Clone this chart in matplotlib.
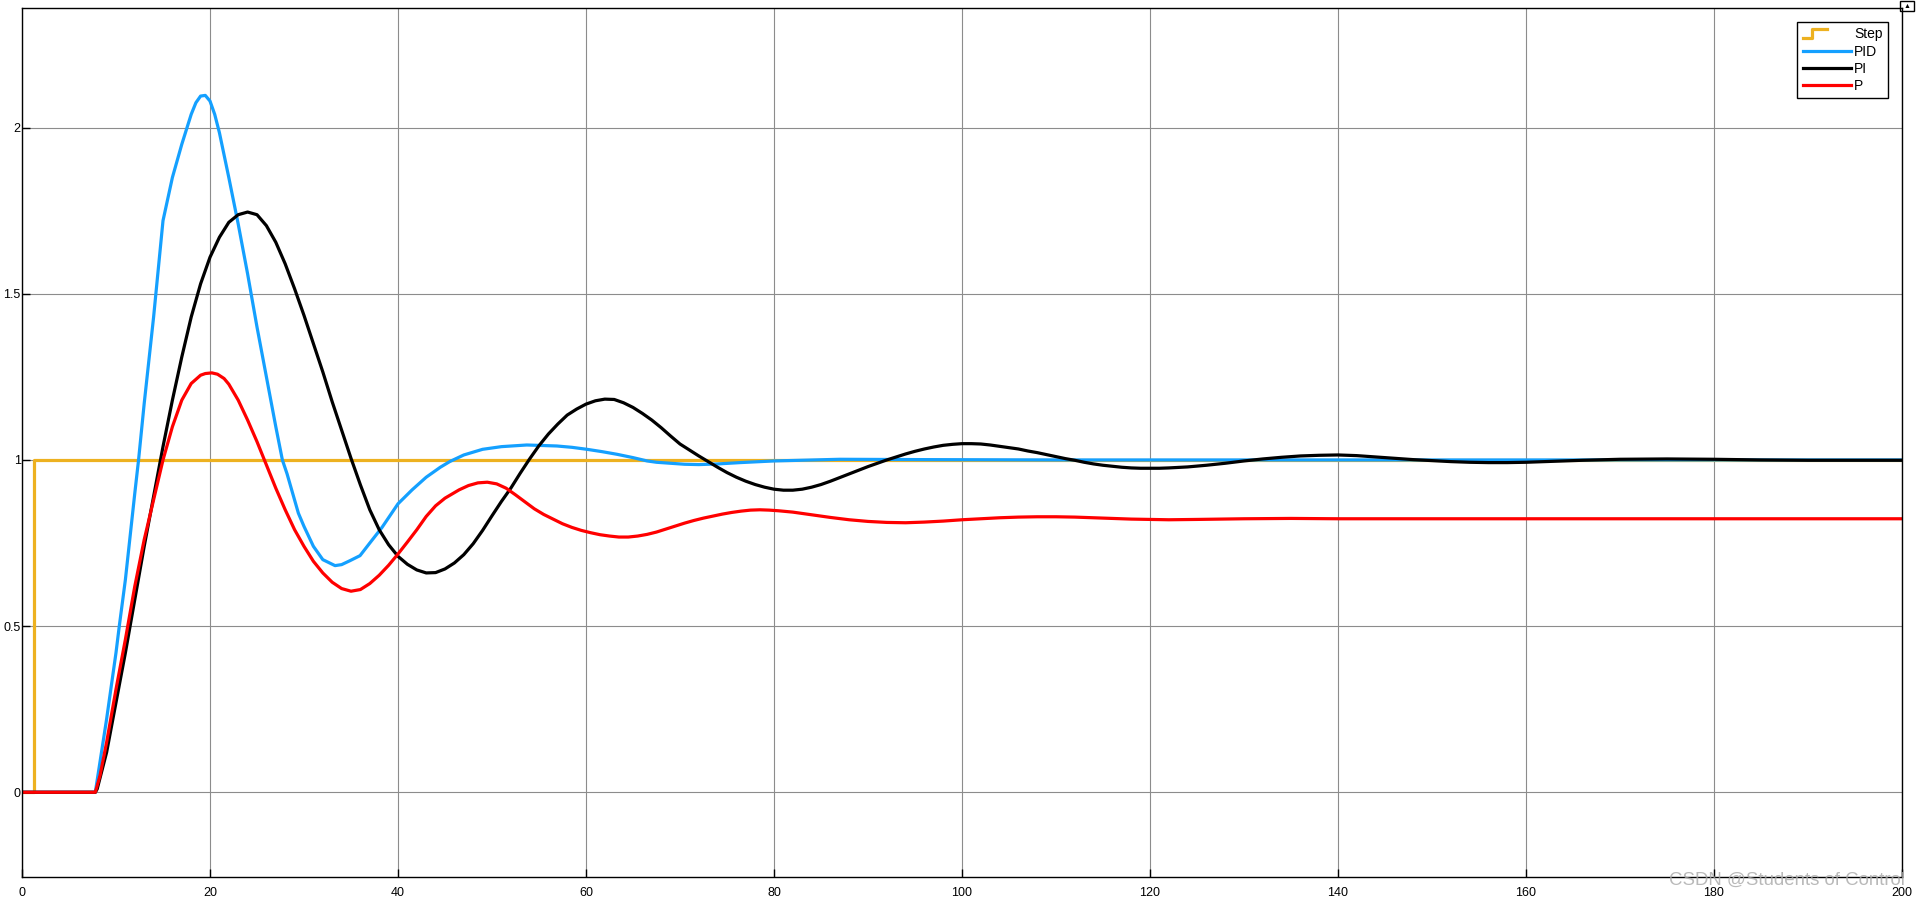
import numpy as np
import matplotlib
matplotlib.use('Agg')
import matplotlib.pyplot as plt
from matplotlib.lines import Line2D
from matplotlib.legend_handler import HandlerBase
from matplotlib.patches import Rectangle

# step input
step_t = [0, 1.3, 1.3, 200]
step_y = [0, 0, 1, 1]

# PID response
pid_t = [0, 7.8, 9, 10, 10.35, 11, 12, 12.4, 13, 14, 15, 16, 17, 18, 18.5, 19, 19.5, 20,
         20.5, 21, 22, 23, 24, 25, 26, 27, 27.7, 28.2, 29.4, 30, 31, 32, 33.3, 34, 34.9,
         35.96, 37, 38.3, 40, 41.5, 43, 44.5, 45.5, 47, 49, 51, 53.7, 56.9, 58.5, 60.1,
         61.7, 63.3, 65, 66.5, 67.5, 69, 70.5, 72, 74, 76.4, 80, 87, 96, 110, 200]
pid_y = [0, 0, 0.22, 0.42, 0.5, 0.64, 0.9, 1.0, 1.17, 1.43, 1.72, 1.85, 1.95, 2.04, 2.075,
         2.095, 2.097, 2.08, 2.04, 1.985, 1.85, 1.71, 1.56, 1.40, 1.25, 1.10, 1.0, 0.958,
         0.84, 0.80, 0.74, 0.70, 0.682, 0.685, 0.697, 0.712, 0.75, 0.797, 0.868, 0.91,
         0.948, 0.978, 0.995, 1.015, 1.032, 1.04, 1.045, 1.042, 1.038, 1.032, 1.025, 1.017,
         1.007, 0.997, 0.993, 0.99, 0.987, 0.986, 0.988, 0.992, 0.997, 1.002, 1.001, 1.0,
         1.0]

# PI response
pi_t = [0, 7.8, 8, 9, 10, 11, 12, 13, 14, 15, 16, 17, 18, 19, 20, 21, 22, 23, 24, 25, 26,
        27, 28, 29, 30, 31, 32, 33, 34, 35, 36, 37, 38, 39, 40, 41, 42, 43, 44, 45, 46, 47,
        48, 49, 50, 51, 52, 53, 54, 55, 56, 57, 58, 59, 60, 61, 62, 63, 64, 65, 66, 67, 68,
        69, 70, 71, 72, 73, 74, 75, 76, 77, 78, 79, 80, 81, 82, 83, 84, 85, 86, 87, 88, 89,
        90, 91, 92, 93, 94, 95, 96, 97, 98, 99, 100, 101, 102, 103, 104, 105, 106, 107,
        108, 109, 110, 111, 112, 113, 114, 115, 116, 117, 118, 119, 120, 121, 122, 124,
        126, 128, 130, 132, 134, 136, 138, 140, 142, 144, 146, 148, 150, 152, 154, 156,
        158, 160, 163, 166, 170, 175, 180, 185, 190, 200]
pi_y = [0, 0, 0.01, 0.12, 0.27, 0.42, 0.58, 0.74, 0.89, 1.04, 1.18, 1.31, 1.43, 1.53, 1.61,
        1.67, 1.715, 1.738, 1.746, 1.738, 1.705, 1.655, 1.59, 1.515, 1.435, 1.35, 1.265,
        1.175, 1.09, 1.005, 0.925, 0.85, 0.79, 0.745, 0.71, 0.686, 0.669, 0.66, 0.661,
        0.672, 0.69, 0.715, 0.748, 0.788, 0.832, 0.875, 0.915, 0.96, 1.003, 1.043, 1.078,
        1.108, 1.135, 1.153, 1.168, 1.178, 1.183, 1.182, 1.172, 1.158, 1.14, 1.12, 1.097,
        1.072, 1.048, 1.03, 1.012, 0.995, 0.978, 0.962, 0.948, 0.936, 0.926, 0.918, 0.912,
        0.909, 0.909, 0.912, 0.918, 0.926, 0.936, 0.947, 0.958, 0.969, 0.98, 0.99, 1.0,
        1.009, 1.018, 1.026, 1.033, 1.039, 1.044, 1.047, 1.049, 1.049, 1.048, 1.045, 1.041,
        1.037, 1.033, 1.027, 1.022, 1.016, 1.01, 1.004, 0.999, 0.993, 0.988, 0.984, 0.981,
        0.978, 0.976, 0.975, 0.975, 0.975, 0.976, 0.979, 0.984, 0.99, 0.997, 1.003, 1.008,
        1.012, 1.014, 1.015, 1.013, 1.009, 1.005, 1.001, 0.998, 0.995, 0.993, 0.992, 0.992,
        0.993, 0.996, 0.999, 1.002, 1.003, 1.002, 1.0, 0.999, 0.999]

# P response
p_t = [0, 7.8, 8.3, 9, 10, 11, 12, 13, 14, 15, 16, 17, 18, 19, 19.5, 20.2, 20.8, 21.5, 22,
       23, 24, 25, 26, 27, 28, 29, 30, 31, 32, 33, 34, 35, 36, 37, 38, 39, 40, 41, 42, 43,
       44, 45, 46.5, 47.5, 48.5, 49.5, 50.5, 51.5, 52.5, 53.5, 54.5, 55.5, 56.5, 57.5,
       58.5, 59.5, 60.5, 61.5, 62.5, 63.5, 64.5, 65.5, 66.5, 67.5, 68.5, 69.5, 70.5, 71.5,
       72.5, 73.5, 74.5, 75.5, 76.5, 77.5, 78.5, 79.5, 80.5, 82, 84, 86, 88, 90, 92, 94,
       96, 98, 100, 102, 104, 106, 108, 110, 112, 114, 116, 118, 120, 122, 125, 130, 135,
       140, 150, 200]
p_y = [0, 0, 0.05, 0.15, 0.31, 0.46, 0.62, 0.76, 0.88, 1.0, 1.10, 1.18, 1.23, 1.255, 1.26,
       1.262, 1.258, 1.245, 1.228, 1.18, 1.12, 1.055, 0.985, 0.915, 0.85, 0.79, 0.74,
       0.695, 0.66, 0.632, 0.613, 0.605, 0.61, 0.628, 0.653, 0.683, 0.717, 0.753, 0.79,
       0.83, 0.862, 0.885, 0.91, 0.923, 0.931, 0.933, 0.928, 0.915, 0.895, 0.874, 0.853,
       0.836, 0.822, 0.808, 0.797, 0.788, 0.781, 0.775, 0.771, 0.768, 0.768, 0.771, 0.776,
       0.783, 0.792, 0.801, 0.81, 0.818, 0.825, 0.831, 0.837, 0.842, 0.846, 0.849, 0.85,
       0.849, 0.847, 0.843, 0.835, 0.827, 0.82, 0.815, 0.812, 0.811, 0.813, 0.816, 0.82,
       0.823, 0.826, 0.828, 0.829, 0.829, 0.828, 0.826, 0.824, 0.822, 0.821, 0.82, 0.821,
       0.823, 0.824, 0.823, 0.823, 0.823]

x_ticks = list(range(0, 201, 20))
y_ticks = [0, 0.5, 1, 1.5, 2]
y_tick_labels = ['0', '0.5', '1', '1.5', '2']

c_step = '#EDB120'
c_pid = '#14A0FF'
c_pi = '#000000'
c_p = '#FF0000'


class StepHandler(HandlerBase):
    # small step-shaped icon like the Simulink scope legend
    def create_artists(self, legend, orig_handle, xdescent, ydescent,
                       width, height, fontsize, trans):
        x0 = -xdescent
        lo = -ydescent + 0.05 * height
        hi = -ydescent + 0.95 * height
        xs = [x0, x0 + 0.2 * width, x0 + 0.2 * width, x0 + 0.5 * width]
        ys = [lo, lo, hi, hi]
        line = Line2D(xs, ys, color=orig_handle.get_color(), lw=orig_handle.get_linewidth())
        line.set_transform(trans)
        return [line]


plt.rcParams['font.family'] = ['Liberation Sans', 'DejaVu Sans']

fig = plt.figure(figsize=(19.2, 9.01), dpi=100)
ax = fig.add_axes([22 / 1920, 24 / 901, 1880 / 1920, 869 / 901])

lw = 2.3
h_step, = ax.plot(step_t, step_y, color=c_step, lw=lw, label='Step')
h_pid, = ax.plot(pid_t, pid_y, color=c_pid, lw=lw, label='PID')
h_pi, = ax.plot(pi_t, pi_y, color=c_pi, lw=lw, label='PI')
h_p, = ax.plot(p_t, p_y, color=c_p, lw=lw, label='P')

ax.set_xlim(0, 200)
ax.set_ylim(-0.255, 2.36)
ax.set_xticks(x_ticks)
ax.set_yticks(y_ticks)
ax.set_yticklabels(y_tick_labels)
ax.tick_params(direction='in', length=6, width=1, labelsize=9, color='black')
ax.tick_params(axis='x', pad=7)
ax.tick_params(axis='y', pad=1)
ax.grid(True, color='#8c8c8c', lw=0.8)
ax.set_axisbelow(True)
for s in ax.spines.values():
    s.set_linewidth(1)
    s.set_color('black')

leg = ax.legend(handles=[h_step, h_pid, h_pi, h_p], loc='upper right',
                handler_map={h_step: StepHandler()},
                fontsize=10, frameon=True, fancybox=False, framealpha=1,
                edgecolor='black', handlelength=3.45, handletextpad=0.25,
                labelspacing=0.22, borderaxespad=1.0, borderpad=0.4)
leg.get_frame().set_linewidth(1)

# little restore button in the top right corner
fig.patches.append(Rectangle((1900 / 1920, 890 / 901), 14 / 1920, 10 / 901,
                             transform=fig.transFigure, fill=False, lw=1, ec='black'))
fig.text(1907 / 1920, 895 / 901, '\u25b2', fontsize=5, ha='center', va='center')

fig.text(1905 / 1920, 16 / 901, 'CSDN @Students of Control', fontsize=13.4,
         color='#a8a8a8', alpha=0.8, ha='right', va='baseline')

fig.savefig('out.png', dpi=100)
